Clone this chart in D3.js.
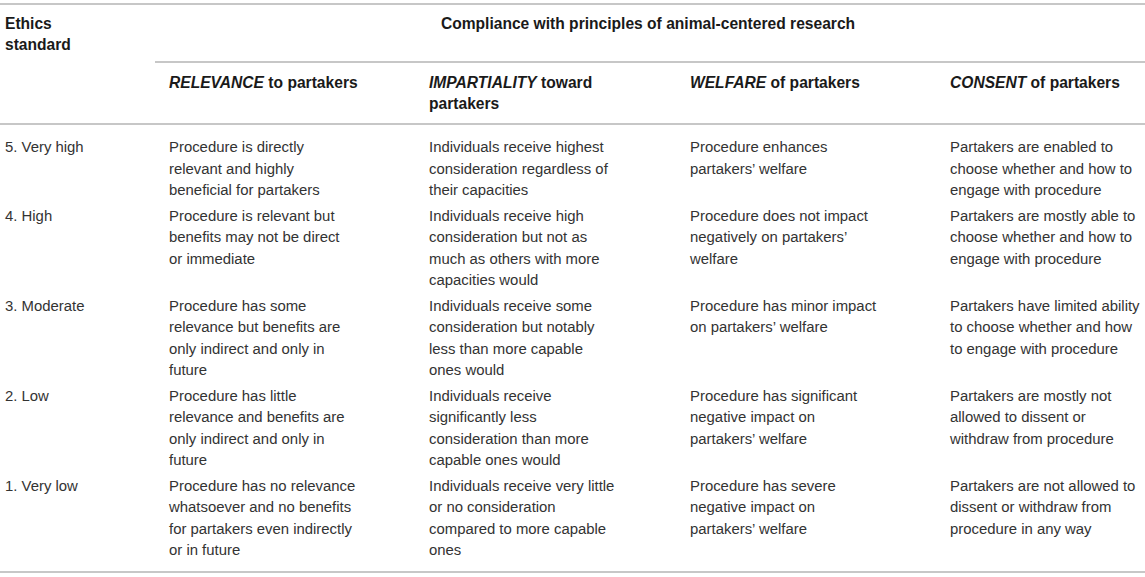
<!DOCTYPE html>
<html>
<head>
<meta charset="utf-8">
<script src="https://cdn.jsdelivr.net/npm/d3@7"></script>
<style>
  body { margin: 0; background: #fff; }
  svg { display: block; font-family: "Liberation Sans", Arial, sans-serif; }
</style>
</head>
<body>
<svg id="table"></svg>
<script>
// table content
let columns = ['level', 'relevance', 'impartiality', 'welfare', 'consent']

let levels = ['5. Very high', '4. High', '3. Moderate', '2. Low', '1. Very low']

let relevance = [
    'Procedure is directly\nrelevant and highly\nbeneficial for partakers',
    'Procedure is relevant but\nbenefits may not be direct\nor immediate',
    'Procedure has some\nrelevance but benefits are\nonly indirect and only in\nfuture',
    'Procedure has little\nrelevance and benefits are\nonly indirect and only in\nfuture',
    'Procedure has no relevance\nwhatsoever and no benefits\nfor partakers even indirectly\nor in future'
]

let impartiality = [
    'Individuals receive highest\nconsideration regardless of\ntheir capacities',
    'Individuals receive high\nconsideration but not as\nmuch as others with more\ncapacities would',
    'Individuals receive some\nconsideration but notably\nless than more capable\nones would',
    'Individuals receive\nsignificantly less\nconsideration than more\ncapable ones would',
    'Individuals receive very little\nor no consideration\ncompared to more capable\nones'
]

let welfare = [
    'Procedure enhances\npartakers\u2019 welfare',
    'Procedure does not impact\nnegatively on partakers\u2019\nwelfare',
    'Procedure has minor impact\non partakers\u2019 welfare',
    'Procedure has significant\nnegative impact on\npartakers\u2019 welfare',
    'Procedure has severe\nnegative impact on\npartakers\u2019 welfare'
]

let consent = [
    'Partakers are enabled to\nchoose whether and how to\nengage with procedure',
    'Partakers are mostly able to\nchoose whether and how to\nengage with procedure',
    'Partakers have limited ability\nto choose whether and how\nto engage with procedure',
    'Partakers are mostly not\nallowed to dissent or\nwithdraw from procedure',
    'Partakers are not allowed to\ndissent or withdraw from\nprocedure in any way'
]

let stubHead = ['Ethics', 'standard']
let spanHead = 'Compliance with principles of animal-centered research'
// [italic part, plain part, second line]
let colHeads = [
    ['RELEVANCE', ' to partakers', ''],
    ['IMPARTIALITY', ' toward', 'partakers'],
    ['WELFARE', ' of partakers', ''],
    ['CONSENT', ' of partakers', '']
]

let width = 1145
let height = 577
let fontSize = 14.9
let headSize = 15.6
let lineH = 21.33
let rowGap = 4.7
let bodyTop = 147

let svg = d3.select('#table')
    .attr('width', width)
    .attr('height', height)

let xScale = d3.scaleOrdinal()
    .domain(columns)
    .range([5, 169, 429, 690, 950])

// build rows with line counts
let rows = levels.map((lv, i) => {
    return {
        level: lv,
        relevance: relevance[i],
        impartiality: impartiality[i],
        welfare: welfare[i],
        consent: consent[i]
    }
})

let yStart = []
let acc = bodyTop
rows.forEach((r) => {
    yStart.push(acc)
    let n = d3.max(columns, (c) => r[c].split('\n').length)
    acc += n * lineH + rowGap
})

// rules
let rules = [
    { x1: 0, x2: width, y: 4 },
    { x1: 155, x2: width, y: 62 },
    { x1: 0, x2: width, y: 124 },
    { x1: 0, x2: width, y: 572 }
]

svg.selectAll('line.rule')
    .data(rules)
    .enter()
    .append('line')
    .attr('class', 'rule')
    .attr('x1', (d) => d.x1)
    .attr('x2', (d) => d.x2)
    .attr('y1', (d) => d.y)
    .attr('y2', (d) => d.y)
    .attr('stroke', '#b4b4b4')
    .attr('stroke-width', 1.6)

// header
let head = svg.append('g')
    .attr('font-weight', 'bold')
    .attr('font-size', headSize)
    .attr('fill', '#1a1a1a')

head.append('text')
    .selectAll('tspan')
    .data(stubHead)
    .enter()
    .append('tspan')
    .attr('x', xScale('level'))
    .attr('y', (d, i) => 23 + i * lineH)
    .attr('dy', '0.36em')
    .text((d) => d)

head.append('text')
    .attr('x', 648)
    .attr('y', 23)
    .attr('dy', '0.36em')
    .attr('text-anchor', 'middle')
    .text(spanHead)

colHeads.forEach((h, i) => {
    let t = head.append('text')
        .attr('x', xScale(columns[i + 1]))
        .attr('y', 82)
        .attr('dy', '0.36em')
    t.append('tspan').attr('font-style', 'italic').text(h[0])
    t.append('tspan').text(h[1])
    if (h[2] !== '') {
        head.append('text')
            .attr('x', xScale(columns[i + 1]))
            .attr('y', 82 + lineH)
            .attr('dy', '0.36em')
            .text(h[2])
    }
})

// body cells
let body = svg.append('g')
    .attr('font-size', fontSize)
    .attr('fill', '#333')

rows.forEach((r, i) => {
    columns.forEach((c) => {
        body.append('text')
            .selectAll('tspan')
            .data(r[c].split('\n'))
            .enter()
            .append('tspan')
            .attr('x', xScale(c))
            .attr('y', (d, j) => yStart[i] + j * lineH)
            .attr('dy', '0.36em')
            .text((d) => d)
    })
})
</script>
</body>
</html>
